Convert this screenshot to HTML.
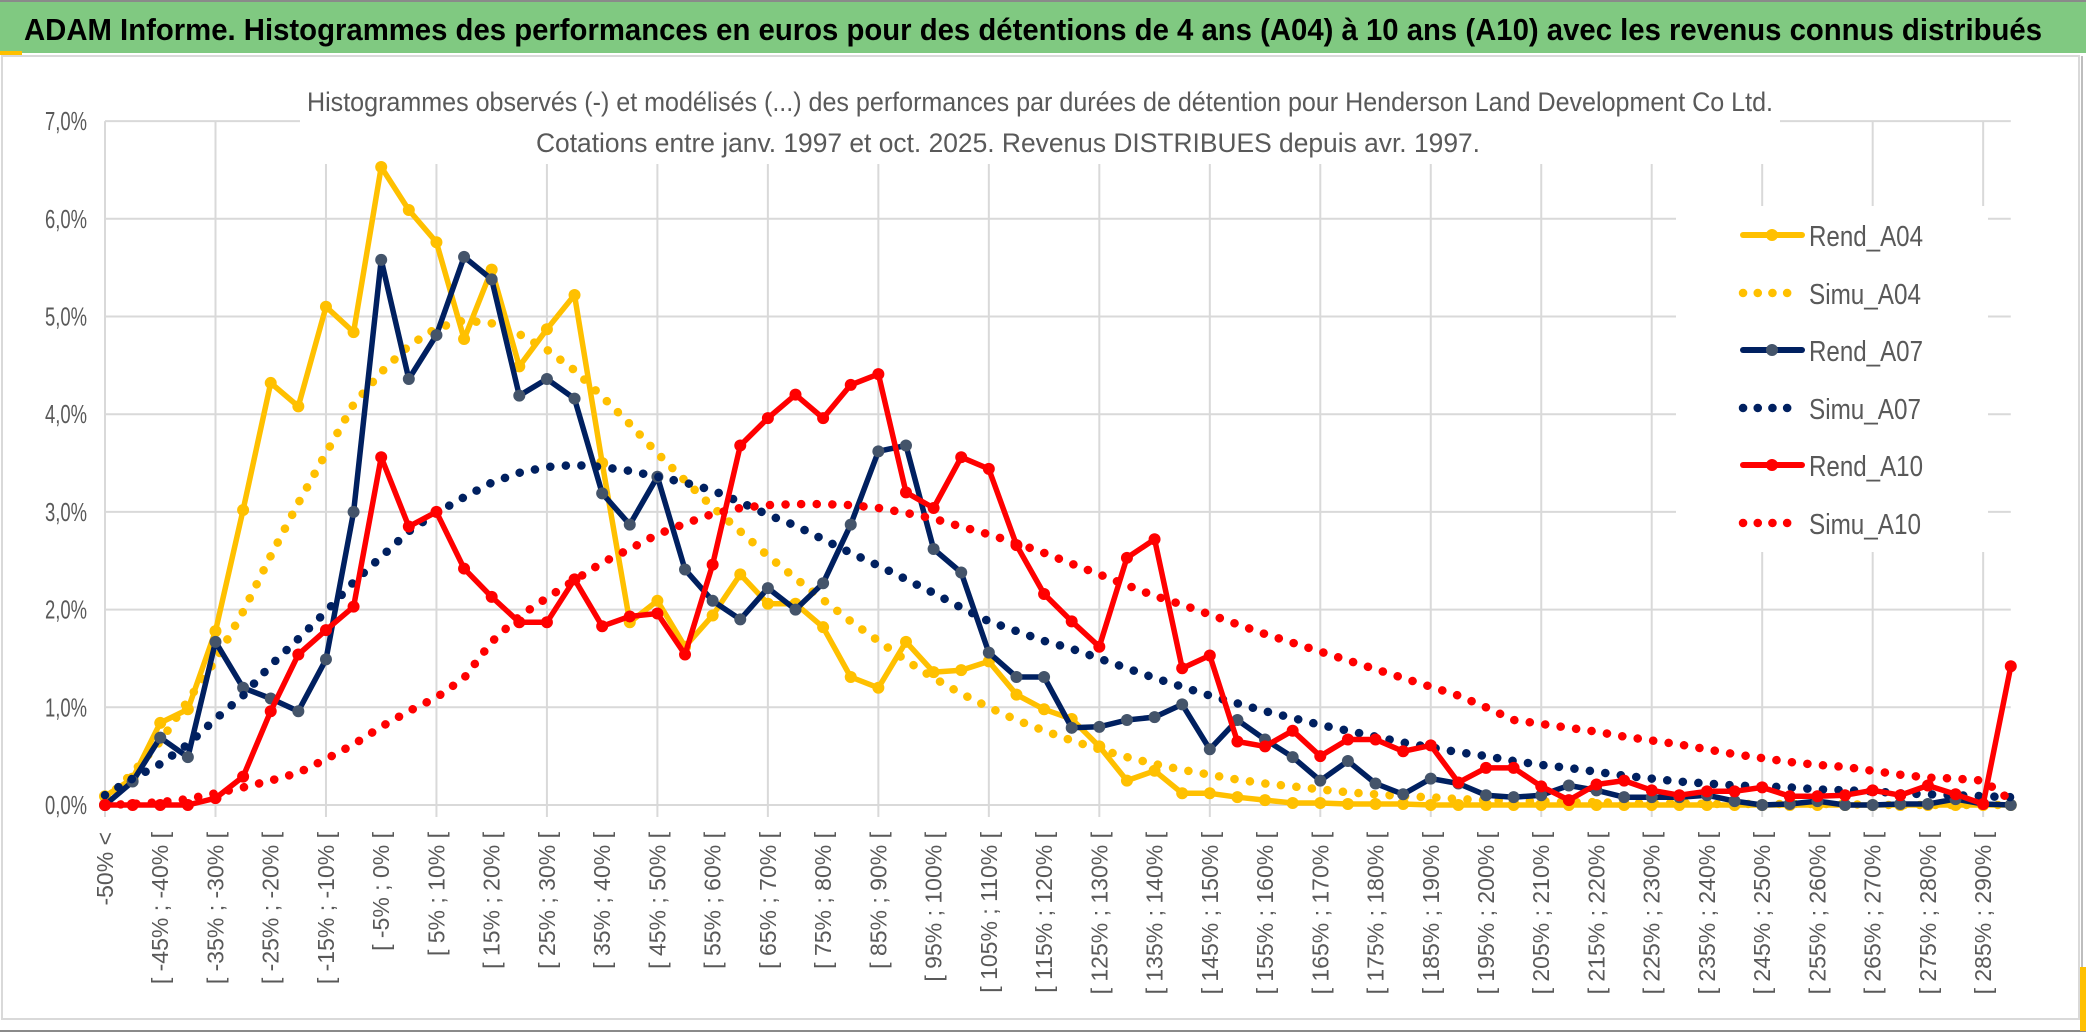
<!DOCTYPE html>
<html><head><meta charset="utf-8"><style>
html,body{margin:0;padding:0;background:#fff;}
svg{display:block;font-family:"Liberation Sans",sans-serif;}
</style></head><body>
<svg id="chart" width="2086" height="1033" viewBox="0 0 2086 1033" xmlns="http://www.w3.org/2000/svg">
<rect x="0" y="0" width="2086" height="1033" fill="#fff"/>
<rect x="0" y="0" width="2086" height="53" fill="#80c981"/>
<rect x="0" y="0" width="2086" height="2" fill="#8a8a8a"/>
<rect x="0" y="51" width="22" height="4" fill="#ffc000"/>
<text x="24" y="40" font-size="31" font-weight="bold" fill="#000" textLength="2018" lengthAdjust="spacingAndGlyphs">ADAM Informe. Histogrammes des performances en euros pour des détentions de 4 ans (A04) à 10 ans (A10) avec les revenus connus distribués</text>
<rect x="2" y="56" width="2077" height="963" fill="none" stroke="#d9d9d9" stroke-width="2"/>
<line x1="0" y1="1031" x2="2086" y2="1031" stroke="#8a8a8a" stroke-width="2"/>
<line x1="2082" y1="56" x2="2082" y2="1031" stroke="#bdbdbd" stroke-width="2"/>
<rect x="2080" y="967" width="6" height="64" fill="#ffc000"/>
<g id="grid"></g>
<rect x="300" y="84" width="1480" height="80" fill="#fff"/>
<text x="1040" y="111" font-size="27" fill="#595959" text-anchor="middle" textLength="1466" lengthAdjust="spacingAndGlyphs">Histogrammes observés (-) et modélisés (...) des performances par durées de détention pour Henderson Land Development Co Ltd.</text>
<text x="1008" y="152" font-size="27" fill="#595959" text-anchor="middle" textLength="944" lengthAdjust="spacingAndGlyphs">Cotations entre janv. 1997 et oct. 2025. Revenus DISTRIBUES depuis avr. 1997.</text>
<g id="ylabels"></g>
<g id="xlabels"></g>
<g id="series"></g>
<rect x="1676" y="206" width="312" height="346" fill="#fff"/>
<g id="legend"></g>
</svg>
<script>
const categories = [];
categories.push("-50% <");
for (let lo = -50; lo <= 290; lo += 5) { categories.push("[ " + lo + "% ; " + (lo + 5) + "% ["); }
const yTicks = [0, 1, 2, 3, 4, 5, 6, 7];
const yTickLabels = ["0,0%", "1,0%", "2,0%", "3,0%", "4,0%", "5,0%", "6,0%", "7,0%"];
const seriesNames = ["Rend_A04", "Simu_A04", "Rend_A07", "Simu_A07", "Rend_A10", "Simu_A10"];
const rendA04 = [0.09,0.27,0.84,0.98,1.78,3.02,4.32,4.08,5.10,4.84,6.53,6.09,5.76,4.77,5.48,4.49,4.87,5.22,3.5,1.87,2.09,1.62,1.94,2.36,2.06,2.06,1.82,1.31,1.20,1.67,1.36,1.38,1.47,1.13,0.98,0.88,0.60,0.25,0.35,0.12,0.12,0.08,0.05,0.02,0.02,0.01,0.01,0.01,0,0,0,0,0,0,0,0,0,0,0,0,0,0,0,0,0,0,0,0,0,0];
const simuA04 = [0.05,0.33,0.65,1.07,1.48,1.98,2.55,3.09,3.6,4.1,4.43,4.7,4.88,4.96,4.93,4.82,4.66,4.45,4.18,3.9,3.6,3.32,3.05,2.8,2.55,2.32,2.1,1.88,1.68,1.48,1.3,1.14,1.0,0.87,0.76,0.66,0.57,0.49,0.42,0.36,0.31,0.26,0.22,0.19,0.16,0.13,0.11,0.09,0.08,0.06,0.05,0.04,0.04,0.03,0.03,0.02,0.02,0.02,0.01,0.01,0.01,0.01,0.01,0.01,0,0,0,0,0,0];
const rendA07 = [0.0,0.24,0.69,0.49,1.67,1.2,1.09,0.96,1.49,3.0,5.58,4.36,4.81,5.61,5.38,4.19,4.36,4.16,3.19,2.87,3.36,2.41,2.09,1.9,2.22,2.0,2.27,2.87,3.62,3.68,2.62,2.38,1.56,1.31,1.31,0.79,0.8,0.87,0.9,1.03,0.57,0.87,0.67,0.49,0.25,0.45,0.22,0.11,0.27,0.22,0.1,0.08,0.1,0.2,0.15,0.08,0.08,0.08,0.1,0.04,0,0.01,0.04,0,0,0.01,0.01,0.06,0.01,0];
const simuA07 = [0.1,0.27,0.42,0.62,0.88,1.12,1.43,1.7,1.98,2.28,2.54,2.8,2.99,3.15,3.3,3.4,3.46,3.48,3.46,3.42,3.36,3.3,3.22,3.1,2.97,2.86,2.72,2.58,2.45,2.31,2.17,2.02,1.88,1.78,1.68,1.6,1.5,1.4,1.3,1.21,1.12,1.04,0.96,0.89,0.82,0.76,0.7,0.64,0.59,0.54,0.5,0.45,0.41,0.38,0.34,0.3,0.27,0.24,0.22,0.2,0.19,0.18,0.16,0.15,0.14,0.12,0.11,0.1,0.09,0.08];
const rendA10 = [0,0,0,0,0.07,0.29,0.96,1.54,1.79,2.03,3.56,2.85,3.0,2.42,2.13,1.87,1.87,2.31,1.83,1.93,1.96,1.54,2.46,3.68,3.96,4.2,3.96,4.3,4.41,3.2,3.04,3.56,3.44,2.66,2.16,1.88,1.62,2.53,2.72,1.4,1.53,0.65,0.6,0.76,0.5,0.67,0.67,0.55,0.61,0.23,0.38,0.38,0.19,0.05,0.21,0.25,0.15,0.1,0.14,0.14,0.18,0.09,0.09,0.1,0.15,0.1,0.2,0.11,0.01,1.42];
const simuA10 = [0,0.01,0.03,0.06,0.12,0.18,0.25,0.33,0.47,0.62,0.8,0.96,1.1,1.3,1.67,1.93,2.12,2.3,2.48,2.62,2.77,2.88,2.98,3.04,3.07,3.08,3.08,3.07,3.04,2.99,2.93,2.85,2.77,2.68,2.58,2.47,2.36,2.25,2.14,2.05,1.95,1.85,1.75,1.66,1.57,1.48,1.39,1.3,1.21,1.12,1.0,0.87,0.83,0.79,0.75,0.7,0.66,0.62,0.57,0.52,0.48,0.44,0.41,0.39,0.35,0.31,0.28,0.27,0.25,0.05];

const NS = "http://www.w3.org/2000/svg";
const X0 = 105, DX = 27.62, Y0 = 805, DY = 97.7;
function xPos(i) { return X0 + i * DX; }
function yPos(v) { return Y0 - v * DY; }
function mk(tag, attrs, parent) {
  const e = document.createElementNS(NS, tag);
  for (const k in attrs) e.setAttribute(k, attrs[k]);
  parent.appendChild(e);
  return e;
}
const grid = document.getElementById("grid");
yTicks.forEach(function (t, k) {
  const x1 = xPos(0), x2 = xPos(categories.length - 1);
  const l = mk("line", {x1: x1, x2: x2, y1: yPos(t), y2: yPos(t), stroke: "#d9d9d9", "stroke-width": 2}, grid);
  
  
});
for (let i = 0; i < categories.length; i += 4) {
  const l = mk("line", {x1: xPos(i), x2: xPos(i), y1: yPos(yTicks[yTicks.length - 1]), y2: yPos(0) + 12, stroke: "#d9d9d9", "stroke-width": 2}, grid);
  
  
}
const yl = document.getElementById("ylabels");
yTicks.forEach(function (t, k) {
  const tx = mk("text", {x: 87, y: yPos(t) + 9, "font-size": 26, fill: "#595959", "text-anchor": "end", textLength: 42, lengthAdjust: "spacingAndGlyphs"}, yl);
  tx.textContent = yTickLabels[k];
  
  
});
const xl = document.getElementById("xlabels");
for (let i = 0; i < categories.length; i += 2) {
  const x = xPos(i) + 8, y = 832;
  const tx = mk("text", {x: x, y: y, "font-size": 23, fill: "#595959", "text-anchor": "end", transform: "rotate(-90 " + x + " " + y + ")"}, xl);
  tx.textContent = categories[i];
  
  
}
const seriesData = [rendA04, simuA04, rendA07, simuA07, rendA10, simuA10];
const colors = ["#ffc000", "#ffc000", "#002060", "#002060", "#ff0000", "#ff0000"];
const markerColors = ["#ffc000", null, "#44546a", null, "#ff0000", null];
const sg = document.getElementById("series");
seriesData.forEach(function (data, s) {
  const g = mk("g", {}, sg);
  
  
  const pts = data.map(function (v, i) { return xPos(i).toFixed(1) + "," + yPos(v).toFixed(1); }).join(" ");
  const dotted = markerColors[s] === null;
  const pl = mk("polyline", {points: pts, fill: "none", stroke: colors[s], "stroke-width": dotted ? 8.5 : 5.5, "stroke-linejoin": "round", "stroke-linecap": "round"}, g);
  if (dotted) pl.setAttribute("stroke-dasharray", "0.1 15.5");
  
  
  if (!dotted) {
    data.forEach(function (v, i) {
      const c = mk("circle", {cx: xPos(i), cy: yPos(v), r: 6, fill: markerColors[s]}, g);
      
      
    });
  }
});
const lg = document.getElementById("legend");
const legendY = [235, 293, 350, 408, 465, 523];
seriesNames.forEach(function (n, s) {
  const g = mk("g", {}, lg);
  
  
  const y = legendY[s];
  const dotted = markerColors[s] === null;
  const l = mk("line", {x1: 1743, x2: dotted ? 1791 : 1802, y1: y, y2: y, stroke: colors[s], "stroke-width": dotted ? 8.5 : 6, "stroke-linecap": "round"}, g);
  if (dotted) l.setAttribute("stroke-dasharray", "0.1 14.6");
  
  
  if (!dotted) {
    const c = mk("circle", {cx: 1772, cy: y, r: 6, fill: markerColors[s]}, g);
    
    
  }
  const t = mk("text", {x: 1809, y: y + 11, "font-size": 29, fill: "#595959", textLength: dotted ? 112 : 114, lengthAdjust: "spacingAndGlyphs"}, g);
  t.textContent = n;
  
  
});
</script>
</body></html>
